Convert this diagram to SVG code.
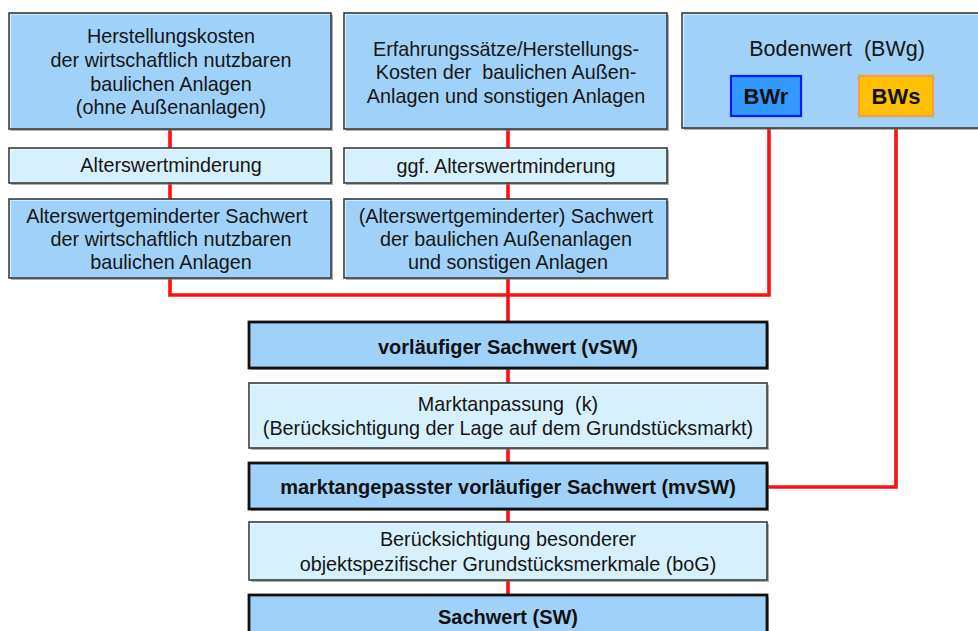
<svg xmlns="http://www.w3.org/2000/svg" width="978" height="631" viewBox="0 0 978 631">
<defs>
<style>
.box{fill:#a0d2f9;stroke:#3c3c3c;stroke-width:1.6}
.lbox{fill:#d6f1fd;stroke:#3c3c3c;stroke-width:1.6}
.kbox{fill:#a0d2f9;stroke:#111;stroke-width:2.8}
.hl{fill:none;stroke:#ffffff;stroke-opacity:0.55;stroke-width:1.2}
.sh{fill:#7a7a7a;opacity:0.6}
.t{font-family:"Liberation Sans",Arial,sans-serif;font-size:19.8px;fill:#151515;text-anchor:middle}
.b{font-weight:bold;fill:#111;font-size:20px}
.conn{fill:none;stroke:#ff1010;stroke-width:3.6;stroke-linejoin:miter}
</style>
</defs>
<rect width="978" height="631" fill="#ffffff"/>
<g id="connectors">
<path class="conn" d="M170,129 V295 H769 V116"/>
<path class="conn" d="M508,129 V598"/>
<path class="conn" d="M896,116 V487 H767"/>
</g>
<g id="herstellungskosten">
<rect class="sh" x="11" y="15" width="322" height="116"/>
<rect class="box" x="9" y="13" width="322" height="116"/>
<path class="hl" d="M10.5,128 V14.5 H330"/>
<text class="t" x="171" y="43">Herstellungskosten</text>
<text class="t" x="171" y="67">der wirtschaftlich nutzbaren</text>
<text class="t" x="171" y="91">baulichen Anlagen</text>
<text class="t" x="171" y="114">(ohne Außenanlagen)</text>
</g>
<g id="alterswertminderung">
<rect class="sh" x="11" y="150" width="322" height="35"/>
<rect class="lbox" x="9" y="148" width="322" height="35"/>
<path class="hl" d="M10.5,182 V149.5 H330"/>
<text class="t" x="171" y="172">Alterswertminderung</text>
</g>
<g id="alterswertgeminderter-sachwert">
<rect class="sh" x="11" y="201" width="322" height="79"/>
<rect class="box" x="9" y="199" width="322" height="79"/>
<path class="hl" d="M10.5,277 V200.5 H330"/>
<text class="t" x="167" y="223">Alterswertgeminderter Sachwert</text>
<text class="t" x="171" y="246">der wirtschaftlich nutzbaren</text>
<text class="t" x="171" y="269">baulichen Anlagen</text>
</g>
<g id="erfahrungssaetze">
<rect class="sh" x="346" y="15" width="323" height="116"/>
<rect class="box" x="344" y="13" width="323" height="116"/>
<path class="hl" d="M345.5,128 V14.5 H666"/>
<text class="t" x="506" y="56">Erfahrungssätze/Herstellungs-</text>
<text class="t" x="506" y="79" xml:space="preserve">Kosten der  baulichen Außen-</text>
<text class="t" x="506" y="103">Anlagen und sonstigen Anlagen</text>
</g>
<g id="ggf-alterswertminderung">
<rect class="sh" x="346" y="150" width="323" height="35"/>
<rect class="lbox" x="344" y="148" width="323" height="35"/>
<path class="hl" d="M345.5,182 V149.5 H666"/>
<text class="t" x="506" y="173">ggf. Alterswertminderung</text>
</g>
<g id="sachwert-aussenanlagen">
<rect class="sh" x="346" y="201" width="323" height="79"/>
<rect class="box" x="344" y="199" width="323" height="79"/>
<path class="hl" d="M345.5,277 V200.5 H666"/>
<text class="t" x="506" y="223">(Alterswertgeminderter) Sachwert</text>
<text class="t" x="506" y="246">der baulichen Außenanlagen</text>
<text class="t" x="508" y="269">und sonstigen Anlagen</text>
</g>
<g id="bodenwert">
<rect class="sh" x="684" y="15" width="300" height="115"/>
<rect class="box" x="682" y="13" width="300" height="115"/>
<path class="hl" d="M683.5,127 V14.5 H982"/>
<text class="t" x="837" y="56" style="font-size:21.5px" xml:space="preserve">Bodenwert  (BWg)</text>
</g>
<g id="bwr">
<rect x="731" y="76" width="70" height="40" fill="#3399ff" stroke="#0a1aff" stroke-width="2.2"/>
<text class="t b" x="766" y="104" style="font-size:22px">BWr</text>
</g>
<g id="bws">
<rect x="859" y="76" width="74" height="40" fill="#ffc000" stroke="#ff9a40" stroke-width="2.2"/>
<text class="t b" x="896" y="104" style="font-size:22px">BWs</text>
</g>
<g id="vsw">
<rect class="sh" x="251" y="324" width="518" height="46"/>
<rect class="kbox" x="249" y="322" width="518" height="46"/>
<text class="t b" x="508" y="354">vorläufiger Sachwert (vSW)</text>
</g>
<g id="marktanpassung">
<rect class="sh" x="251" y="385" width="518" height="65"/>
<rect class="lbox" x="249" y="383" width="518" height="65"/>
<path class="hl" d="M250.5,447 V384.5 H766"/>
<text class="t" x="508" y="411" xml:space="preserve">Marktanpassung  (k)</text>
<text class="t" x="508" y="435">(Berücksichtigung der Lage auf dem Grundstücksmarkt)</text>
</g>
<g id="mvsw">
<rect class="sh" x="251" y="465" width="518" height="46"/>
<rect class="kbox" x="249" y="463" width="518" height="46"/>
<text class="t b" x="508" y="494">marktangepasster vorläufiger Sachwert (mvSW)</text>
</g>
<g id="bog">
<rect class="sh" x="251" y="524" width="518" height="58"/>
<rect class="lbox" x="249" y="522" width="518" height="58"/>
<path class="hl" d="M250.5,579 V523.5 H766"/>
<text class="t" x="508" y="546">Berücksichtigung besonderer</text>
<text class="t" x="508" y="571">objektspezifischer Grundstücksmerkmale (boG)</text>
</g>
<g id="sachwert">
<rect class="sh" x="251" y="597" width="518" height="46"/>
<rect class="kbox" x="249" y="595" width="518" height="46"/>
<text class="t b" x="508" y="624">Sachwert (SW)</text>
</g>
</svg>
